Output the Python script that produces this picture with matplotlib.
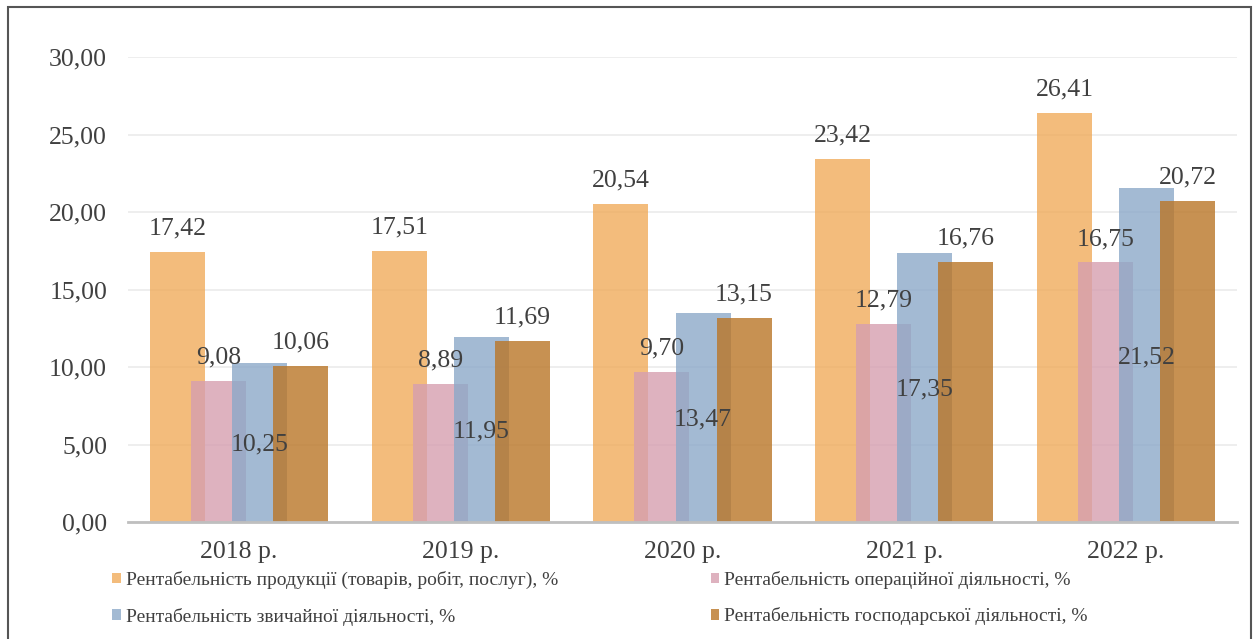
import matplotlib
matplotlib.use("Agg")
import matplotlib.pyplot as plt
from matplotlib.patches import Rectangle
import numpy as np

years = ["2018 р.", "2019 р.", "2020 р.", "2021 р.", "2022 р."]
series_names = [
    "Рентабельність продукції (товарів, робіт, послуг), %",
    "Рентабельність операційної діяльності, %",
    "Рентабельність звичайної діяльності, %",
    "Рентабельність господарської діяльності, %",
]
product = [17.42, 17.51, 20.54, 23.42, 26.41]
operating = [9.08, 8.89, 9.70, 12.79, 16.75]
ordinary = [10.25, 11.95, 13.47, 17.35, 21.52]
economic = [10.06, 11.69, 13.15, 16.76, 20.72]
yticks = [0, 5, 10, 15, 20, 25, 30]

plt.rcParams['font.family'] = ['Liberation Serif', 'DejaVu Serif']
txt = '#404040'
fs = 18.5

fig = plt.figure(figsize=(12.6, 6.39), dpi=100)
ax = fig.add_axes([128/1260, 1-522/639, (1237-128)/1260, (522-57)/639])

colors = ['#F0AB5B', '#D69FB0', '#8CA9C9', '#BA7627']
data = [product, operating, ordinary, economic]
x = np.arange(len(years))
step = 0.185
width = 0.248
offsets = [-1.5, -0.5, 0.5, 1.5]
bars = []
for i, (vals, c) in enumerate(zip(data, colors)):
    b = ax.bar(x + offsets[i]*step, vals, width=width, color=c, alpha=0.8,
               zorder=2+i, label=series_names[i], linewidth=0)
    bars.append(b)
    for xi, v in zip(x + offsets[i]*step, vals):
        s = f"{v:.2f}".replace('.', ',')
        if i == 2:
            ax.annotate(s, (xi, v/2), xytext=(0, -5.8), textcoords='offset points',
                        ha='center', va='baseline', fontsize=fs, color=txt, zorder=10)
        else:
            ax.annotate(s, (xi, v), xytext=(0, 12.5), textcoords='offset points',
                        ha='center', va='baseline', fontsize=fs, color=txt, zorder=10)

ax.set_xlim(-0.5, 4.5)
ax.set_ylim(0, 30)
ax.set_yticks(yticks)
ax.set_yticklabels([f"{t:.2f}".replace('.', ',') for t in yticks])
ax.set_xticks(x)
ax.set_xticklabels(years)
ax.tick_params(axis='both', length=0, labelsize=fs, labelcolor=txt)
ax.tick_params(axis='y', pad=15)
ax.tick_params(axis='x', pad=13.5)
ax.grid(axis='y', color='#EBEBEB', linewidth=1.2, zorder=0)
ax.set_axisbelow(True)
for sp in ['top', 'right', 'left']:
    ax.spines[sp].set_visible(False)
ax.spines['bottom'].set_color('#BFBFBF')
ax.spines['bottom'].set_linewidth(2)
ax.spines['bottom'].set_zorder(10)

handles = [bars[0], bars[2], bars[1], bars[3]]
labels = [series_names[0], series_names[2], series_names[1], series_names[3]]
leg = fig.legend(handles, labels, ncol=2, loc='upper left',
                 bbox_to_anchor=(112/1260, 1-571/639), frameon=False,
                 fontsize=14, handlelength=0.45, handleheight=0.45,
                 handletextpad=0.25, columnspacing=7.85, labelspacing=0.95,
                 borderaxespad=0, borderpad=0)
for t in leg.get_texts():
    t.set_color(txt)

fig.patches.append(Rectangle((8/1260, -0.05), (1251-8)/1260, 1.05-7/639,
                             transform=fig.transFigure, fill=False,
                             edgecolor='#555555', linewidth=1.5))

fig.savefig("out.png", dpi=100)
